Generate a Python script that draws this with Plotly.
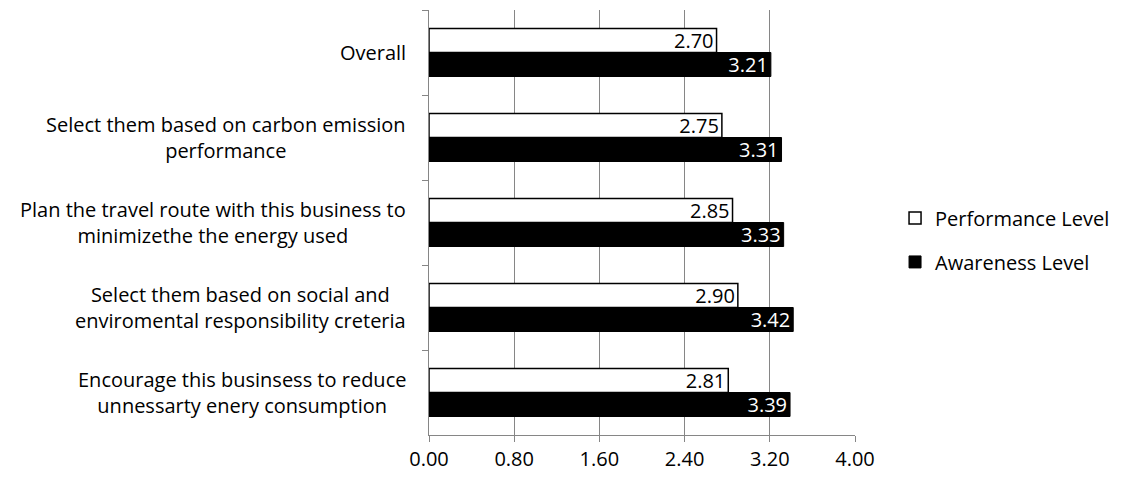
import plotly.graph_objects as go

categories = [
    "Overall",
    "Select them based on carbon emission<br>performance",
    "Plan the travel route with this business to<br>minimizethe the energy used",
    "Select them based on social and<br>enviromental responsibility creteria",
    "Encourage this businsess to reduce<br>unnessarty enery consumption",
]
performance = [2.70, 2.75, 2.85, 2.90, 2.81]
awareness = [3.21, 3.31, 3.33, 3.42, 3.39]
x_ticks = [0.0, 0.8, 1.6, 2.4, 3.2, 4.0]

FONT = "'Open Sans', Lato, sans-serif"
SIZE = 20
GRID = "#868686"

fig = go.Figure()
fig.add_trace(go.Bar(
    name="Performance Level", y=categories, x=performance, orientation="h",
    marker=dict(color="white", line=dict(color="black", width=1.5)),
    text=[f"{v:.2f}" for v in performance], textposition="inside",
    insidetextanchor="end", constraintext="none",
    textfont=dict(color="black", size=SIZE, family=FONT),
    legendgroup="p",
))
fig.add_trace(go.Bar(
    name="Awareness Level", y=categories, x=awareness, orientation="h",
    marker=dict(color="black", line=dict(color="black", width=1)),
    text=[f"{v:.2f}" for v in awareness], textposition="inside",
    insidetextanchor="end", constraintext="none",
    textfont=dict(color="white", size=SIZE, family=FONT),
    legendgroup="a",
))

# category labels, centred line by line, right-aligned against the axis
for c in categories:
    fig.add_annotation(
        x=0, xref="paper", y=c, yref="y", text=c, showarrow=False,
        xanchor="right", yanchor="middle", align="center", xshift=-21,
        font=dict(size=SIZE, family=FONT, color="black"),
    )

fig.update_layout(
    width=1122, height=479,
    margin=dict(l=429, r=267, t=10, b=44, autoexpand=False),
    paper_bgcolor="white", plot_bgcolor="white",
    barmode="group", bargap=0.435, bargroupgap=0,
    font=dict(family=FONT, size=SIZE, color="black"),
    showlegend=True,
    legend=dict(
        x=1.094, y=0.459, xanchor="left", yanchor="middle",
        font=dict(size=SIZE, family=FONT, color="black"),
        traceorder="grouped", tracegroupgap=15,
        itemwidth=30,
    ),
    xaxis=dict(
        range=[0, 4], tickvals=x_ticks, ticktext=[f"{v:.2f}" for v in x_ticks],
        showgrid=True, gridcolor=GRID, gridwidth=1,
        showline=True, linecolor=GRID, linewidth=1,
        ticks="outside", ticklen=6, tickcolor=GRID,
        zeroline=False, tickfont=dict(size=SIZE, family=FONT, color="black"),
    ),
    yaxis=dict(
        autorange="reversed", showticklabels=False,
        showgrid=False, showline=True, linecolor=GRID, linewidth=1,
        ticks="outside", ticklen=6, tickcolor=GRID, tickson="boundaries",
    ),
)

fig.write_html("out.html")
